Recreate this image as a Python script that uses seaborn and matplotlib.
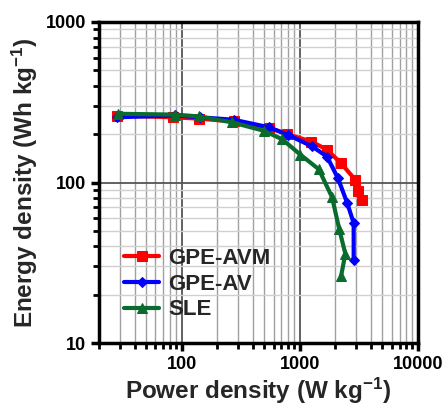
import matplotlib
matplotlib.use("Agg")
import matplotlib.pyplot as plt
import seaborn as sns
import pandas as pd
from matplotlib.ticker import LogLocator, NullFormatter, FixedLocator

sns.set_theme(style="white")
plt.rcParams['font.family'] = ['Liberation Sans', 'DejaVu Sans']
plt.rcParams['font.weight'] = 'bold'
plt.rcParams['mathtext.fontset'] = 'custom'
plt.rcParams['mathtext.bf'] = 'Liberation Sans:bold'
plt.rcParams['mathtext.rm'] = 'Liberation Sans:bold'
plt.rcParams['mathtext.default'] = 'bf'

series = ["GPE-AVM", "GPE-AV", "SLE"]
avm_power = [28.6, 84.5, 140, 277, 547, 787, 1257, 1703, 2235, 2950, 3110, 3366]
avm_energy = [261, 255, 250, 240, 220, 200, 180, 160, 132, 104, 89, 78]
av_power = [28.6, 88, 143, 277, 547, 796, 1271, 1703, 2109, 2514, 2860, 2860]
av_energy = [255, 262, 255, 246, 221, 198, 168, 145, 106, 75, 56, 33]
sle_power = [29.2, 87.7, 140, 268, 497, 710, 1014, 1449, 1877, 2163, 2431, 2235]
sle_energy = [268, 265, 258, 237, 210, 186, 149, 121, 81, 51, 36, 26]

rows = []
for name, p, e in [(series[0], avm_power, avm_energy),
                   (series[1], av_power, av_energy),
                   (series[2], sle_power, sle_energy)]:
    for i, (pp, ee) in enumerate(zip(p, e)):
        rows.append({"series": name, "power": pp, "energy": ee, "order": i})
df = pd.DataFrame(rows)

colors = {"GPE-AVM": "#ff0000", "GPE-AV": "#0000ff", "SLE": "#0a6b2e"}
markers = {"GPE-AVM": "s", "GPE-AV": "D", "SLE": "^"}
msizes = {"GPE-AVM": 7, "GPE-AV": 5.5, "SLE": 7}

fig = plt.figure(figsize=(4.46, 4.07), dpi=100)
ax = fig.add_axes([0.222, 0.157, 0.715, 0.789])

for name in series:
    sub = df[df.series == name]
    sns.lineplot(data=sub, x="power", y="energy", ax=ax, sort=False, estimator=None,
                 color=colors[name], marker=markers[name], markersize=msizes[name],
                 markeredgecolor=colors[name], linewidth=3, label=name)

ax.set_xscale("log")
ax.set_yscale("log")
ax.set_xlim(20, 10000)
ax.set_ylim(10, 1000)

ax.xaxis.set_major_locator(FixedLocator([100, 1000, 10000]))
ax.yaxis.set_major_locator(FixedLocator([10, 100, 1000]))
ax.set_xticklabels(["100", "1000", "10000"])
ax.set_yticklabels(["10", "100", "1000"])
ax.xaxis.set_minor_locator(LogLocator(base=10, subs=range(2, 10)))
ax.yaxis.set_minor_locator(LogLocator(base=10, subs=range(2, 10)))
ax.xaxis.set_minor_formatter(NullFormatter())
ax.yaxis.set_minor_formatter(NullFormatter())

ax.grid(True, which="major", color="#555555", linewidth=1.3)
ax.grid(True, which="minor", axis="x", color="#a0a0a0", linewidth=1.0)
ax.grid(True, which="minor", axis="y", color="#d0d0d0", linewidth=1.0)
ax.set_axisbelow(True)

for s in ax.spines.values():
    s.set_linewidth(2.5)
    s.set_color("black")

ax.tick_params(which="major", direction="out", length=6, width=2.5, labelsize=13,
               bottom=True, left=True, top=False, right=False, colors="black")
ax.tick_params(which="minor", direction="out", length=4, width=2,
               bottom=True, left=True, top=False, right=False, colors="black")
for lab in ax.get_xticklabels() + ax.get_yticklabels():
    lab.set_fontweight("bold")

ax.set_xlabel("Power density (W kg$^{-1}$)", fontsize=17.5, fontweight="bold", labelpad=2)
ax.set_ylabel("Energy density (Wh kg$^{-1}$)", fontsize=17.5, fontweight="bold", labelpad=4)

leg = ax.legend(loc="upper left", bbox_to_anchor=(0.05, 0.325), frameon=False,
                prop={"weight": "bold", "size": 16}, handlelength=1.6,
                handletextpad=0.4, labelspacing=0.22, borderaxespad=0)

fig.savefig("out.png", dpi=100)
